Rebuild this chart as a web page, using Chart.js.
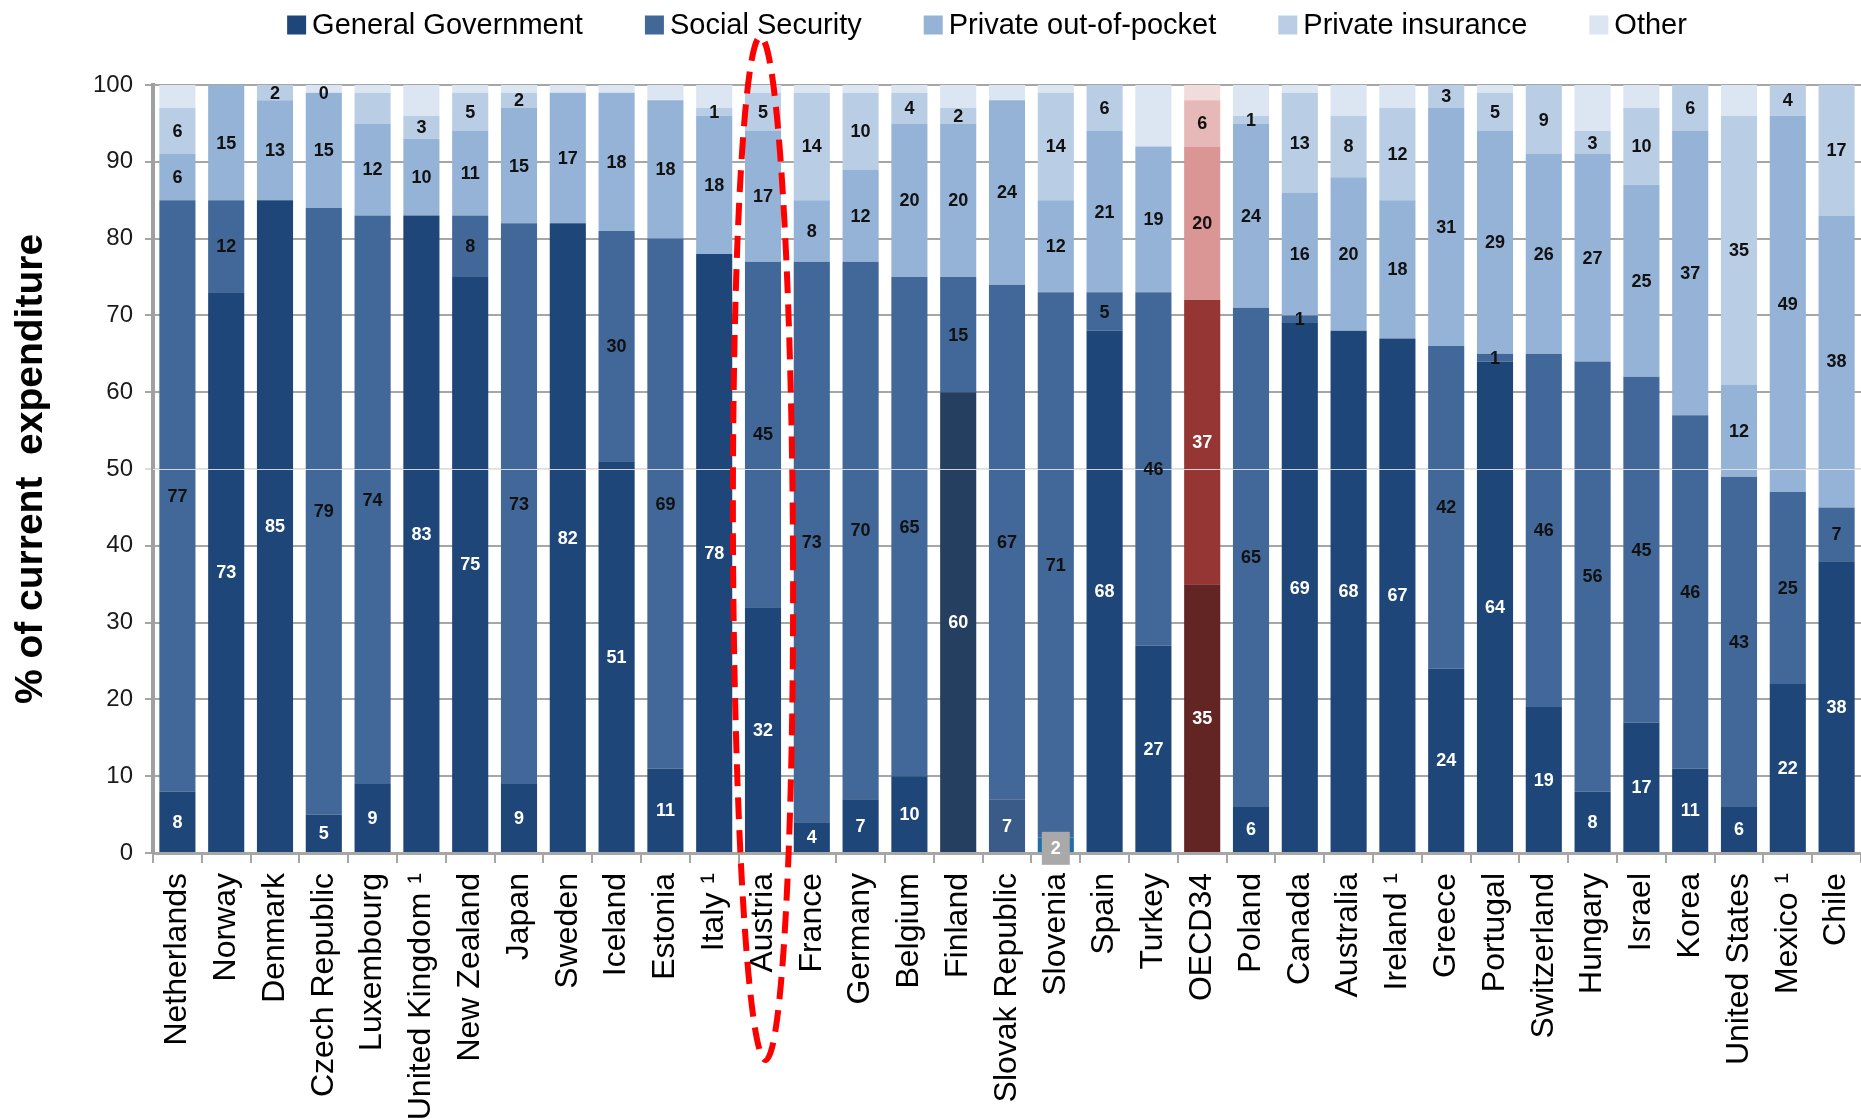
<!DOCTYPE html>
<html>
<head>
<meta charset="utf-8">
<title>Health expenditure by financing agent</title>
<script src="https://cdn.jsdelivr.net/npm/chart.js@4.4.1/dist/chart.umd.min.js"></script>
<style>
  html, body { margin: 0; padding: 0; background: #fff; overflow: hidden; }
  #wrap { width: 1861px; height: 1119px; }
</style>
</head>
<body>
<div id="wrap"><canvas id="spendChart"></canvas></div>
<script>
// countries in ranking order
const countries = ['Netherlands', 'Norway', 'Denmark', 'Czech Republic', 'Luxembourg', 'United Kingdom \u00b9',
  'New Zealand', 'Japan', 'Sweden', 'Iceland', 'Estonia', 'Italy \u00b9', 'Austria', 'France', 'Germany',
  'Belgium', 'Finland', 'Slovak Republic', 'Slovenia', 'Spain', 'Turkey', 'OECD34', 'Poland', 'Canada',
  'Australia', 'Ireland \u00b9', 'Greece', 'Portugal', 'Switzerland', 'Hungary', 'Israel', 'Korea',
  'United States', 'Mexico \u00b9', 'Chile'];

// share of current expenditure (%)
const generalGov    = [8, 73, 85, 5, 9, 83, 75, 9, 82, 51, 11, 78, 32, 4, 7, 10, 60, 7, 2, 68, 27, 35, 6, 69, 68, 67, 24, 64, 19, 8, 17, 11, 6, 22, 38];
const socialSec     = [77, 12, 0, 79, 74, 0, 8, 73, 0, 30, 69, 0, 45, 73, 70, 65, 15, 67, 71, 5, 46, 37, 65, 1, 0, 0, 42, 1, 46, 56, 45, 46, 43, 25, 7];
const outOfPocket   = [6, 15, 13, 15, 12, 10, 11, 15, 17, 18, 18, 18, 17, 8, 12, 20, 20, 24, 12, 21, 19, 20, 24, 16, 20, 18, 31, 29, 26, 27, 25, 37, 12, 49, 38];
const privInsurance = [6, 0, 2, 0, 4, 3, 5, 2, 0, 0, 0, 1, 5, 14, 10, 4, 2, 0, 14, 6, 0, 6, 1, 13, 8, 12, 3, 5, 9, 3, 10, 6, 35, 4, 17];
const other         = [3, 0, 0, 1, 1, 4, 1, 1, 1, 1, 2, 3, 1, 1, 1, 1, 3, 2, 1, 0, 8, 2, 4, 1, 4, 3, 0, 1, 0, 6, 3, 0, 4, 0, 0];

const seriesNames = ['General Government', 'Social Security', 'Private out-of-pocket', 'Private insurance', 'Other'];
const seriesData = [generalGov, socialSec, outOfPocket, privInsurance, other];

const blues = ['#1f4678', '#416899', '#95b3d7', '#b9cde5', '#dce6f2'];
const reds  = ['#632523', '#963634', '#d99694', '#e6b9b8', '#f2dcdb'];

const average = 'OECD34';
const highlighted = 'Austria';

// a few government bars are shaded differently
const ggShade = { 'Finland': '#243f60', 'Slovak Republic': '#3a5b87', 'Slovenia': '#1f6fa6' };

// label exceptions
const hiddenLabels = { 'Private insurance': ['Luxembourg'] };
const zeroLabels   = { 'Private insurance': ['Czech Republic'] };
const boxedLabels  = { 'General Government': ['Slovenia'] };

const FONT = '"Liberation Sans", Arial, Helvetica, sans-serif';
Chart.defaults.font.family = FONT;

const coloursFor = (si) => countries.map(c => {
  if (c === average) return reds[si];
  if (si === 0 && ggShade[c]) return ggShade[c];
  return blues[si];
});

const listed = (table, name, country) => (table[name] || []).includes(country);

// numbers written in the middle of each segment
const segmentLabels = {
  id: 'segmentLabels',
  afterDatasetsDraw(chart) {
    const ctx = chart.ctx;
    const area = chart.chartArea;
    ctx.save();

    // faint rule across the bars at 50%
    const y50 = chart.scales.y.getPixelForValue(50);
    ctx.strokeStyle = 'rgba(235,235,235,0.85)';
    ctx.lineWidth = 1;
    ctx.beginPath();
    ctx.moveTo(area.left, y50 + 0.5);
    ctx.lineTo(area.right, y50 + 0.5);
    ctx.stroke();

    ctx.font = 'bold 18px ' + FONT;
    ctx.textAlign = 'center';
    ctx.textBaseline = 'middle';
    chart.data.datasets.forEach((ds, si) => {
      if (ds.label === 'Other') return;
      chart.getDatasetMeta(si).data.forEach((bar, i) => {
        const c = countries[i];
        const v = ds.data[i];
        if (listed(hiddenLabels, ds.label, c)) return;
        if (v === 0 && !listed(zeroLabels, ds.label, c)) return;
        const x = bar.x;
        const y = (bar.y + bar.base) / 2;
        if (listed(boxedLabels, ds.label, c)) {
          ctx.fillStyle = '#a9a9a9';
          ctx.fillRect(x - 14, y - 13, 28, 33);
          ctx.fillStyle = '#ffffff';
          ctx.fillText(String(v), x, y + 4);
          return;
        }
        ctx.fillStyle = (si === 0 || (c === average && si === 1)) ? '#ffffff' : '#111111';
        ctx.fillText(String(v), x, y + 1);
      });
    });
    ctx.restore();
  }
};

// legend row on top and the dashed ring around one country
const keyAndRing = {
  id: 'keyAndRing',
  afterDraw(chart) {
    const ctx = chart.ctx;
    const { left, right, top, bottom } = chart.chartArea;
    ctx.save();

    ctx.font = '29px ' + FONT;
    ctx.textBaseline = 'middle';
    const box = 19, gap = 6, spacing = 62;
    const widths = seriesNames.map(n => box + gap + ctx.measureText(n).width);
    const total = widths.reduce((a, b) => a + b, 0) + spacing * (widths.length - 1);
    let x = (left + right) / 2 - total / 2 - 20;
    const y = 25;
    seriesNames.forEach((n, i) => {
      ctx.fillStyle = blues[i];
      ctx.fillRect(x, y - box / 2, box, box);
      ctx.fillStyle = '#000000';
      ctx.fillText(n, x + box + gap, y + 1);
      x += widths[i] + spacing;
    });

    const cx = chart.scales.x.getPixelForValue(countries.indexOf(highlighted));
    const ringTop = top - 48, ringBottom = bottom + 207;
    ctx.beginPath();
    ctx.ellipse(cx, (ringTop + ringBottom) / 2, 30, (ringBottom - ringTop) / 2, -0.005, 0, Math.PI * 2);
    ctx.setLineDash([22, 11]);
    ctx.lineWidth = 6;
    ctx.strokeStyle = '#ff0000';
    ctx.stroke();
    ctx.restore();
  }
};

new Chart(document.getElementById('spendChart'), {
  type: 'bar',
  data: {
    labels: countries,
    datasets: seriesNames.map((name, si) => ({
      label: name,
      data: seriesData[si],
      backgroundColor: coloursFor(si),
      borderWidth: 0,
    })),
  },
  options: {
    responsive: true,
    maintainAspectRatio: false,
    animation: false,
    devicePixelRatio: 1,
    layout: { padding: { top: 85, left: 0, right: 0, bottom: 0 } },
    datasets: { bar: { barPercentage: 0.74, categoryPercentage: 1.0 } },
    plugins: {
      legend: { display: false },
      tooltip: { enabled: false },
    },
    scales: {
      x: {
        stacked: true,
        grid: { drawOnChartArea: false, drawTicks: true, tickLength: 10, color: '#a6a6a6', lineWidth: 2 },
        border: { display: true, color: '#a6a6a6', width: 3 },
        ticks: {
          autoSkip: false,
          minRotation: 90,
          maxRotation: 90,
          padding: 10,
          color: '#000000',
          font: { size: 32 },
        },
        afterFit(scale) {
          scale.height = 266;
          // let the last bar run to the canvas edge
          scale.paddingLeft = 0;
          scale.paddingRight = 0;
        },
      },
      y: {
        stacked: true,
        min: 0,
        max: 100,
        ticks: { stepSize: 10, padding: 12, color: '#1a1a1a', font: { size: 24 } },
        grid: {
          color: (c) => (c.tick && c.tick.value === 50) ? '#dcdcdc' : '#a6a6a6',
          lineWidth: 2,
          tickLength: 8,
        },
        border: { color: '#a0a0a0', width: 4 },
        title: {
          display: true,
          text: '% of current  expenditure',
          color: '#000000',
          font: { size: 39, weight: 'bold' },
          padding: { top: 8, bottom: 0 },
        },
        afterFit(scale) { scale.width = 153; },
      },
    },
  },
  plugins: [segmentLabels, keyAndRing],
});
</script>
</body>
</html>
